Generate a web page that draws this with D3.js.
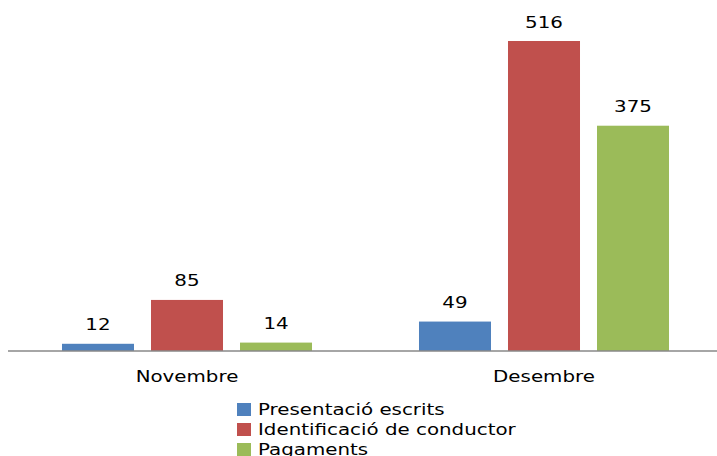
<!DOCTYPE html>
<html>
<head>
<meta charset="utf-8">
<script src="https://cdn.jsdelivr.net/npm/d3@7"></script>
<style>
  html, body { margin: 0; padding: 0; background: #fff; }
  svg { display: block; }
  text { font-family: "DejaVu Sans", Verdana, sans-serif; fill: #000; }
</style>
</head>
<body>
<svg id="chart" width="717" height="456"></svg>
<script>
// Monthly counts by procedure type
const months = ["Novembre", "Desembre"];
const seriesNames = ["Presentació escrits", "Identificació de conductor", "Pagaments"];
const presentacio = [12, 49];
const identificacio = [85, 516];
const pagaments = [14, 375];
const seriesColors = ["#4F81BD", "#C0504D", "#9BBB59"];

const seriesValues = [presentacio, identificacio, pagaments];
const rows = months.map((m, i) => ({
  month: m,
  values: seriesNames.map((s, j) => ({ series: s, idx: j, value: seriesValues[j][i] }))
}));

const svg = d3.select("#chart");
const stretch = 1.24; // wide letterforms

const baseY = 351;
const x0 = d3.scaleBand().domain(months).range([8.5, 722.5]).paddingInner(0).paddingOuter(0);
const x1 = d3.scaleBand().domain(seriesNames).range([0, x0.bandwidth()])
  .paddingInner(17 / 89).paddingOuter(0.601);
const y = d3.scaleLinear().domain([0, 516]).range([baseY, 41]);

const groups = svg.selectAll("g.month").data(rows).join("g")
  .attr("class", "month")
  .attr("transform", d => `translate(${x0(d.month)},0)`);

groups.selectAll("rect").data(d => d.values).join("rect")
  .attr("x", d => x1(d.series))
  .attr("y", d => y(d.value))
  .attr("width", x1.bandwidth())
  .attr("height", d => y(0) - y(d.value))
  .attr("fill", d => seriesColors[d.idx]);

groups.selectAll("text.val").data(d => d.values).join("text")
  .attr("class", "val")
  .attr("text-anchor", "middle")
  .attr("font-size", 16)
  .attr("transform", d => `translate(${x1(d.series) + x1.bandwidth() / 2},${y(d.value) - 13.5}) scale(${stretch},1)`)
  .text(d => d.value);

// category axis
const axis = d3.axisBottom(x0).tickSize(0).tickPadding(0);
const axisG = svg.append("g").attr("transform", `translate(0,${baseY})`).call(axis);
axisG.select(".domain").attr("stroke", "#898989").attr("stroke-width", 1.5)
  .attr("d", `M8,0H717`);
axisG.selectAll(".tick text")
  .attr("font-size", 16)
  .attr("font-family", "DejaVu Sans, Verdana, sans-serif")
  .attr("fill", "#000")
  .attr("dy", null)
  .attr("y", null)
  .attr("transform", `translate(0,31) scale(${stretch},1)`);

// legend
const legend = svg.append("g").attr("transform", "translate(237,403)");
const items = legend.selectAll("g").data(seriesNames).join("g")
  .attr("transform", (d, i) => `translate(0,${i * 20})`);
items.append("rect").attr("width", 14).attr("height", 13)
  .attr("fill", (d, i) => seriesColors[i]);
items.append("text")
  .attr("font-size", 16)
  .attr("transform", `translate(21,11.5) scale(${stretch},1)`)
  .text(d => d);
</script>
</body>
</html>
